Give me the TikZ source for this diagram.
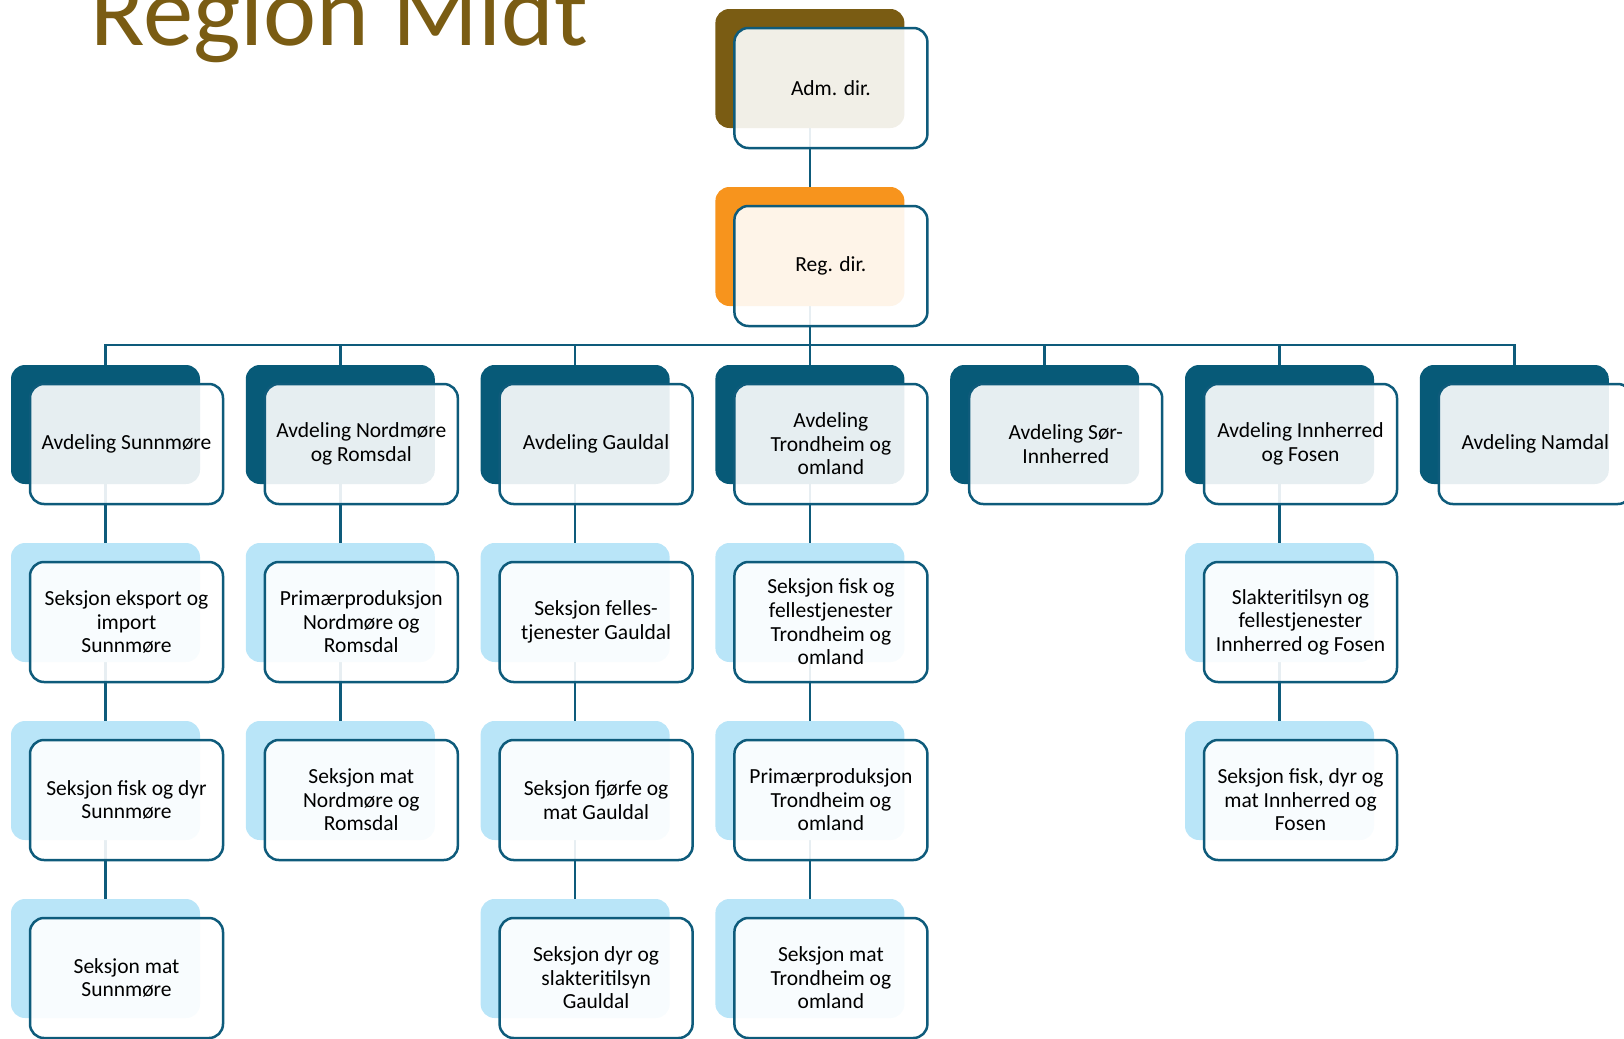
\documentclass[tikz,border=0pt]{standalone}
\usepackage{fontspec}
\setmainfont{Carlito}
\usepackage{xcolor}
\usepackage{tikz}
\usetikzlibrary{positioning,backgrounds}
\definecolor{admolive}{HTML}{7A5C13}
\definecolor{regorange}{HTML}{F7941D}
\definecolor{avdteal}{HTML}{075A78}
\definecolor{seklight}{HTML}{B9E5F8}
\definecolor{linteal}{HTML}{0E5B7B}

\begin{document}
\begin{tikzpicture}[x=0.5pt, y=-0.5pt,
      bk/.style={rounded corners=7pt, minimum width=94.5pt, minimum height=59.5pt,
                 inner sep=0pt, outer sep=0pt},
      admbk/.style={bk, fill=admolive},
      regbk/.style={bk, fill=regorange},
      avdbk/.style={bk, fill=avdteal},
      sekbk/.style={bk, fill=seklight},
      fr/.style={draw=linteal, line width=1.25pt, fill=white, fill opacity=0.9,
                 text opacity=1, rounded corners=7pt,
                 minimum width=96.5pt, minimum height=60pt,
                 inner sep=0pt, outer sep=0pt, align=center,
                 font=\fontsize{10.75}{11.8}\selectfont,
                 below right=9.5pt and 9.5pt of #1.north west},
      con/.style={draw=linteal, line width=1.3pt}
  ]
    \useasboundingbox (0,0) rectangle (1624,1039);
    \node[anchor=base west, inner sep=0pt, text=admolive,
          font=\fontsize{50.3}{51}\selectfont] (title) at (90,45) {Region Midt};

    % top
    \node[admbk] (admb) at (809.9,68.5) {};
    \node[regbk, below=29.5pt of admb] (regb) {};
    \node[fr=admb] (adm) {Adm. dir.};
    \node[fr=regb] (reg) {Reg. dir.};

    % avdelinger
    \node[avdbk] (avd1b) at (105.5,424.5) {};
    \node[avdbk, right=22.9pt of avd1b] (avd2b) {};
    \node[avdbk, right=22.9pt of avd2b] (avd3b) {};
    \node[avdbk, right=22.9pt of avd3b] (avd4b) {};
    \node[avdbk, right=22.9pt of avd4b] (avd5b) {};
    \node[avdbk, right=22.9pt of avd5b] (avd6b) {};
    \node[avdbk, right=22.9pt of avd6b] (avd7b) {};
    \node[fr=avd1b] (avd1) {Avdeling Sunnmøre};
    \node[fr=avd2b] (avd2) {Avdeling Nordmøre\\og Romsdal};
    \node[fr=avd3b] (avd3) {Avdeling Gauldal};
    \node[fr=avd4b] (avd4) {Avdeling\\Trondheim og\\omland};
    \node[fr=avd5b] (avd5) {Avdeling Sør-\\Innherred};
    \node[fr=avd6b] (avd6) {Avdeling Innherred\\og Fosen};
    \node[fr=avd7b] (avd7) {Avdeling Namdal};

    % seksjoner
    \node[sekbk, below=29.5pt of avd1b] (s11b) {};
    \node[sekbk, below=29.5pt of s11b] (s12b) {};
    \node[sekbk, below=29.5pt of s12b] (s13b) {};
    \node[sekbk, below=29.5pt of avd2b] (s21b) {};
    \node[sekbk, below=29.5pt of s21b] (s22b) {};
    \node[sekbk, below=29.5pt of avd3b] (s31b) {};
    \node[sekbk, below=29.5pt of s31b] (s32b) {};
    \node[sekbk, below=29.5pt of s32b] (s33b) {};
    \node[sekbk, below=29.5pt of avd4b] (s41b) {};
    \node[sekbk, below=29.5pt of s41b] (s42b) {};
    \node[sekbk, below=29.5pt of s42b] (s43b) {};
    \node[sekbk, below=29.5pt of avd6b] (s61b) {};
    \node[sekbk, below=29.5pt of s61b] (s62b) {};

    \node[fr=s11b] (s11) {Seksjon eksport og\\import\\Sunnmøre};
    \node[fr=s12b] (s12) {Seksjon fisk og dyr\\Sunnmøre};
    \node[fr=s13b] (s13) {Seksjon mat\\Sunnmøre};
    \node[fr=s21b] (s21) {Primærproduksjon\\Nordmøre og\\Romsdal};
    \node[fr=s22b] (s22) {Seksjon mat\\Nordmøre og\\Romsdal};
    \node[fr=s31b] (s31) {Seksjon felles-\\tjenester Gauldal};
    \node[fr=s32b] (s32) {Seksjon fjørfe og\\mat Gauldal};
    \node[fr=s33b] (s33) {Seksjon dyr og\\slakteritilsyn\\Gauldal};
    \node[fr=s41b] (s41) {Seksjon fisk og\\fellestjenester\\Trondheim og\\omland};
    \node[fr=s42b] (s42) {Primærproduksjon\\Trondheim og\\omland};
    \node[fr=s43b] (s43) {Seksjon mat\\Trondheim og\\omland};
    \node[fr=s61b] (s61) {Slakteritilsyn og\\fellestjenester\\Innherred og Fosen};
    \node[fr=s62b] (s62) {Seksjon fisk, dyr og\\mat Innherred og\\Fosen};

    % linjer
    \begin{scope}[on background layer]
      \coordinate (bus) at (809.9,345);
      \draw[con] (admb.south) -- (regb.north);
      \foreach \a in {1,...,7}
        \draw[con] (regb.south) -- (regb.south |- bus) -| (avd\a b.north);
      \draw[con] (avd1b.south) -- (s11b.north);
      \draw[con] (s11b.south) -- (s12b.north);
      \draw[con] (s12b.south) -- (s13b.north);
      \draw[con] (avd2b.south) -- (s21b.north);
      \draw[con] (s21b.south) -- (s22b.north);
      \draw[con] (avd3b.south) -- (s31b.north);
      \draw[con] (s31b.south) -- (s32b.north);
      \draw[con] (s32b.south) -- (s33b.north);
      \draw[con] (avd4b.south) -- (s41b.north);
      \draw[con] (s41b.south) -- (s42b.north);
      \draw[con] (s42b.south) -- (s43b.north);
      \draw[con] (avd6b.south) -- (s61b.north);
      \draw[con] (s61b.south) -- (s62b.north);
    \end{scope}
  \end{tikzpicture}
\end{document}
